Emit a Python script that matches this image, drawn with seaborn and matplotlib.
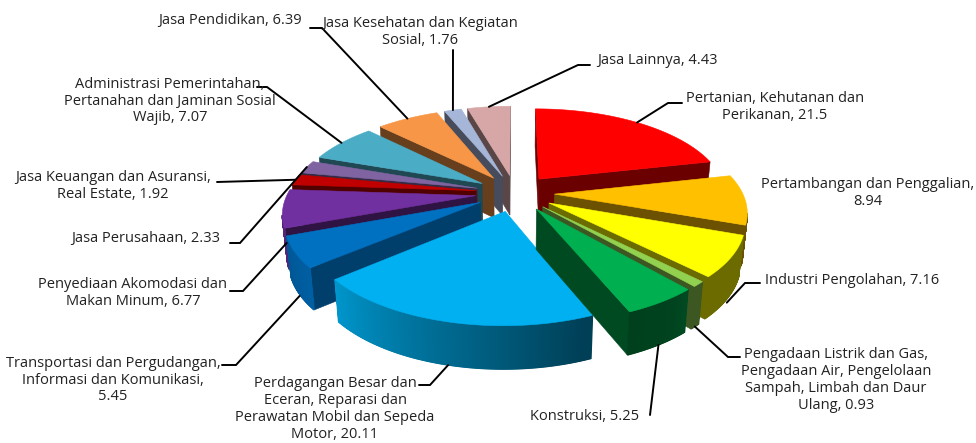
import numpy as np
import matplotlib
matplotlib.use("Agg")
import matplotlib.pyplot as plt
import seaborn as sns

categories = [
    "Pertanian, Kehutanan dan\nPerikanan",
    "Pertambangan dan Penggalian,\n",
    "Industri Pengolahan",
    "Pengadaan Listrik dan Gas,\nPengadaan Air, Pengelolaan\nSampah, Limbah dan Daur\nUlang",
    "Konstruksi",
    "Perdagangan Besar dan\nEceran, Reparasi dan\nPerawatan Mobil dan Sepeda\nMotor",
    "Transportasi dan Pergudangan,\nInformasi dan Komunikasi,\n",
    "Penyediaan Akomodasi dan\nMakan Minum",
    "Jasa Keuangan dan Asuransi,\nReal Estate",
    "Jasa Perusahaan",
    "Administrasi Pemerintahan,\nPertanahan dan Jaminan Sosial\nWajib",
    "Jasa Pendidikan",
    "Jasa Kesehatan dan Kegiatan\nSosial",
    "Jasa Lainnya",
]
values = [21.5, 8.94, 7.16, 0.93, 5.25, 20.11, 5.45, 6.77, 1.92, 2.33, 7.07, 6.39, 1.76, 4.43]
colors = ["#FF0000", "#FFC000", "#FFFF00", "#92D050", "#00B050", "#00B0F0", "#0070C0",
          "#7030A0", "#C00000", "#8064A2", "#4BACC6", "#F79646", "#A6B6D8", "#D7A6A6"]

# label centre in pixels
label_x = [775, 868, 852, 836, 585, 335, 113, 133, 113, 146, 170, 230, 420, 657]
label_y = [107, 193, 280, 380, 417, 409, 380, 293, 186, 238, 101, 20, 32, 60]
# leader elbows in pixels, the last point comes from the slice itself
leaders = {
    0: [(682, 103), (668, 103)],
    2: [(760, 283), (745, 283)],
    3: [(740, 357), (728, 357)],
    4: [(650, 415)],
    5: [(419, 385), (430, 385)],
    6: [(222, 365), (236, 365)],
    7: [(230, 291), (243, 291)],
    8: [(217, 182)],
    9: [(230, 243), (240, 243)],
    10: [(257, 87), (267, 87)],
    11: [(310, 28), (322, 28)],
    12: [(453, 50)],
    13: [(590, 65), (578, 65)],
}
# how far down the rim each leader lands
leader_z = {2: 1.1, 3: 1.0, 4: 1.0, 5: 1.0, 6: 1.05, 7: 0.85}

# fake 3d pie
k, A, B, H = 0.175, 188, 87, 40
cx, cy, e = 515, 193, 0.21


def project(X, Y, z=0):
    s = 1 / (1 + k * Y)
    return cx + A * X * s * (1 - 0.02 * z), cy - B * Y * s + H * s ** 0.35 * z


sns.set_theme(style="white")
plt.rcParams["font.family"] = ["Open Sans", "DejaVu Sans"]
palette = sns.color_palette(colors)

fig, ax = plt.subplots(figsize=(9.76, 4.43), dpi=100)
fig.subplots_adjust(0, 0, 1, 1)
ax.set_xlim(0, 976)
ax.set_ylim(443, 0)
ax.axis("off")

edges = np.radians(np.concatenate([[0], np.cumsum(values)]) / np.sum(values) * 360)
mids = (edges[:-1] + edges[1:]) / 2


def side_shade(theta):
    return np.interp(np.degrees(theta), [90, 135, 139, 145, 160, 230, 270], [0.42, 0.42, 0.42, 0.38, 0.36, 0.85, 0.7])


def darker(c, f):
    return tuple(np.array(c) * f)


def draw_slice(i):
    t0, t1, m = edges[i], edges[i + 1], mids[i]
    ox, oy = e * np.sin(m), e * np.cos(m)
    c = palette[i]
    wall = darker(c, 0.56 if i == 6 else 0.42)
    viewer = -1 / k

    # flat radial walls
    for t, sign in ((t0, -1), (t1, 1)):
        nx, ny = sign * np.cos(t), -sign * np.sin(t)
        if nx * ox + ny * (oy - viewer) < 0:
            X, Y = ox + np.sin(t), oy + np.cos(t)
            pts = [project(ox, oy), project(X, Y), project(X, Y, 1), project(ox, oy, 1)]
            ax.fill(*zip(*pts), color=wall, lw=0.4)

    # outer rim, split up for the gradient
    tt = np.linspace(t0, t1, max(int((t1 - t0) * 220), 4))
    for a, b in zip(tt[:-1], tt[1:]):
        t = (a + b) / 2
        X, Y = ox + np.sin(t), oy + np.cos(t)
        if np.sin(t) * X + np.cos(t) * (Y - viewer) < 0:
            Xa, Ya = ox + np.sin(a), oy + np.cos(a)
            Xb, Yb = ox + np.sin(b), oy + np.cos(b)
            pts = [project(Xa, Ya), project(Xb, Yb), project(Xb, Yb, 1), project(Xa, Ya, 1)]
            ax.fill(*zip(*pts), color=darker(c, side_shade(t)), lw=0.9)

    # top face
    tt = np.linspace(t0, t1, 80)
    px, py = project(ox + np.sin(tt), oy + np.cos(tt))
    ax0, ay0 = project(ox, oy)
    ax.fill(np.r_[ax0, px], np.r_[ay0, py], color=c, lw=0.4)


n = len(values)
for i in list(range(n - 1, 4, -1)) + list(range(5)):
    draw_slice(i)

for i, pts in leaders.items():
    m = mids[i]
    end = project(e * np.sin(m) + np.sin(m), e * np.cos(m) + np.cos(m), leader_z.get(i, 0))
    xs, ys = zip(*(pts + [end]))
    ax.plot(xs, ys, color="black", lw=1.4, solid_joinstyle="miter", zorder=5)

for name, v, x, y in zip(categories, values, label_x, label_y):
    ax.text(x, y, f"{name}, {v}" if not name.endswith("\n") else f"{name}{v}",
            ha="center", va="center", fontsize=10.5, color="#222222", linespacing=1.18, zorder=6)

fig.savefig("out.png", dpi=100)
plt.close(fig)
